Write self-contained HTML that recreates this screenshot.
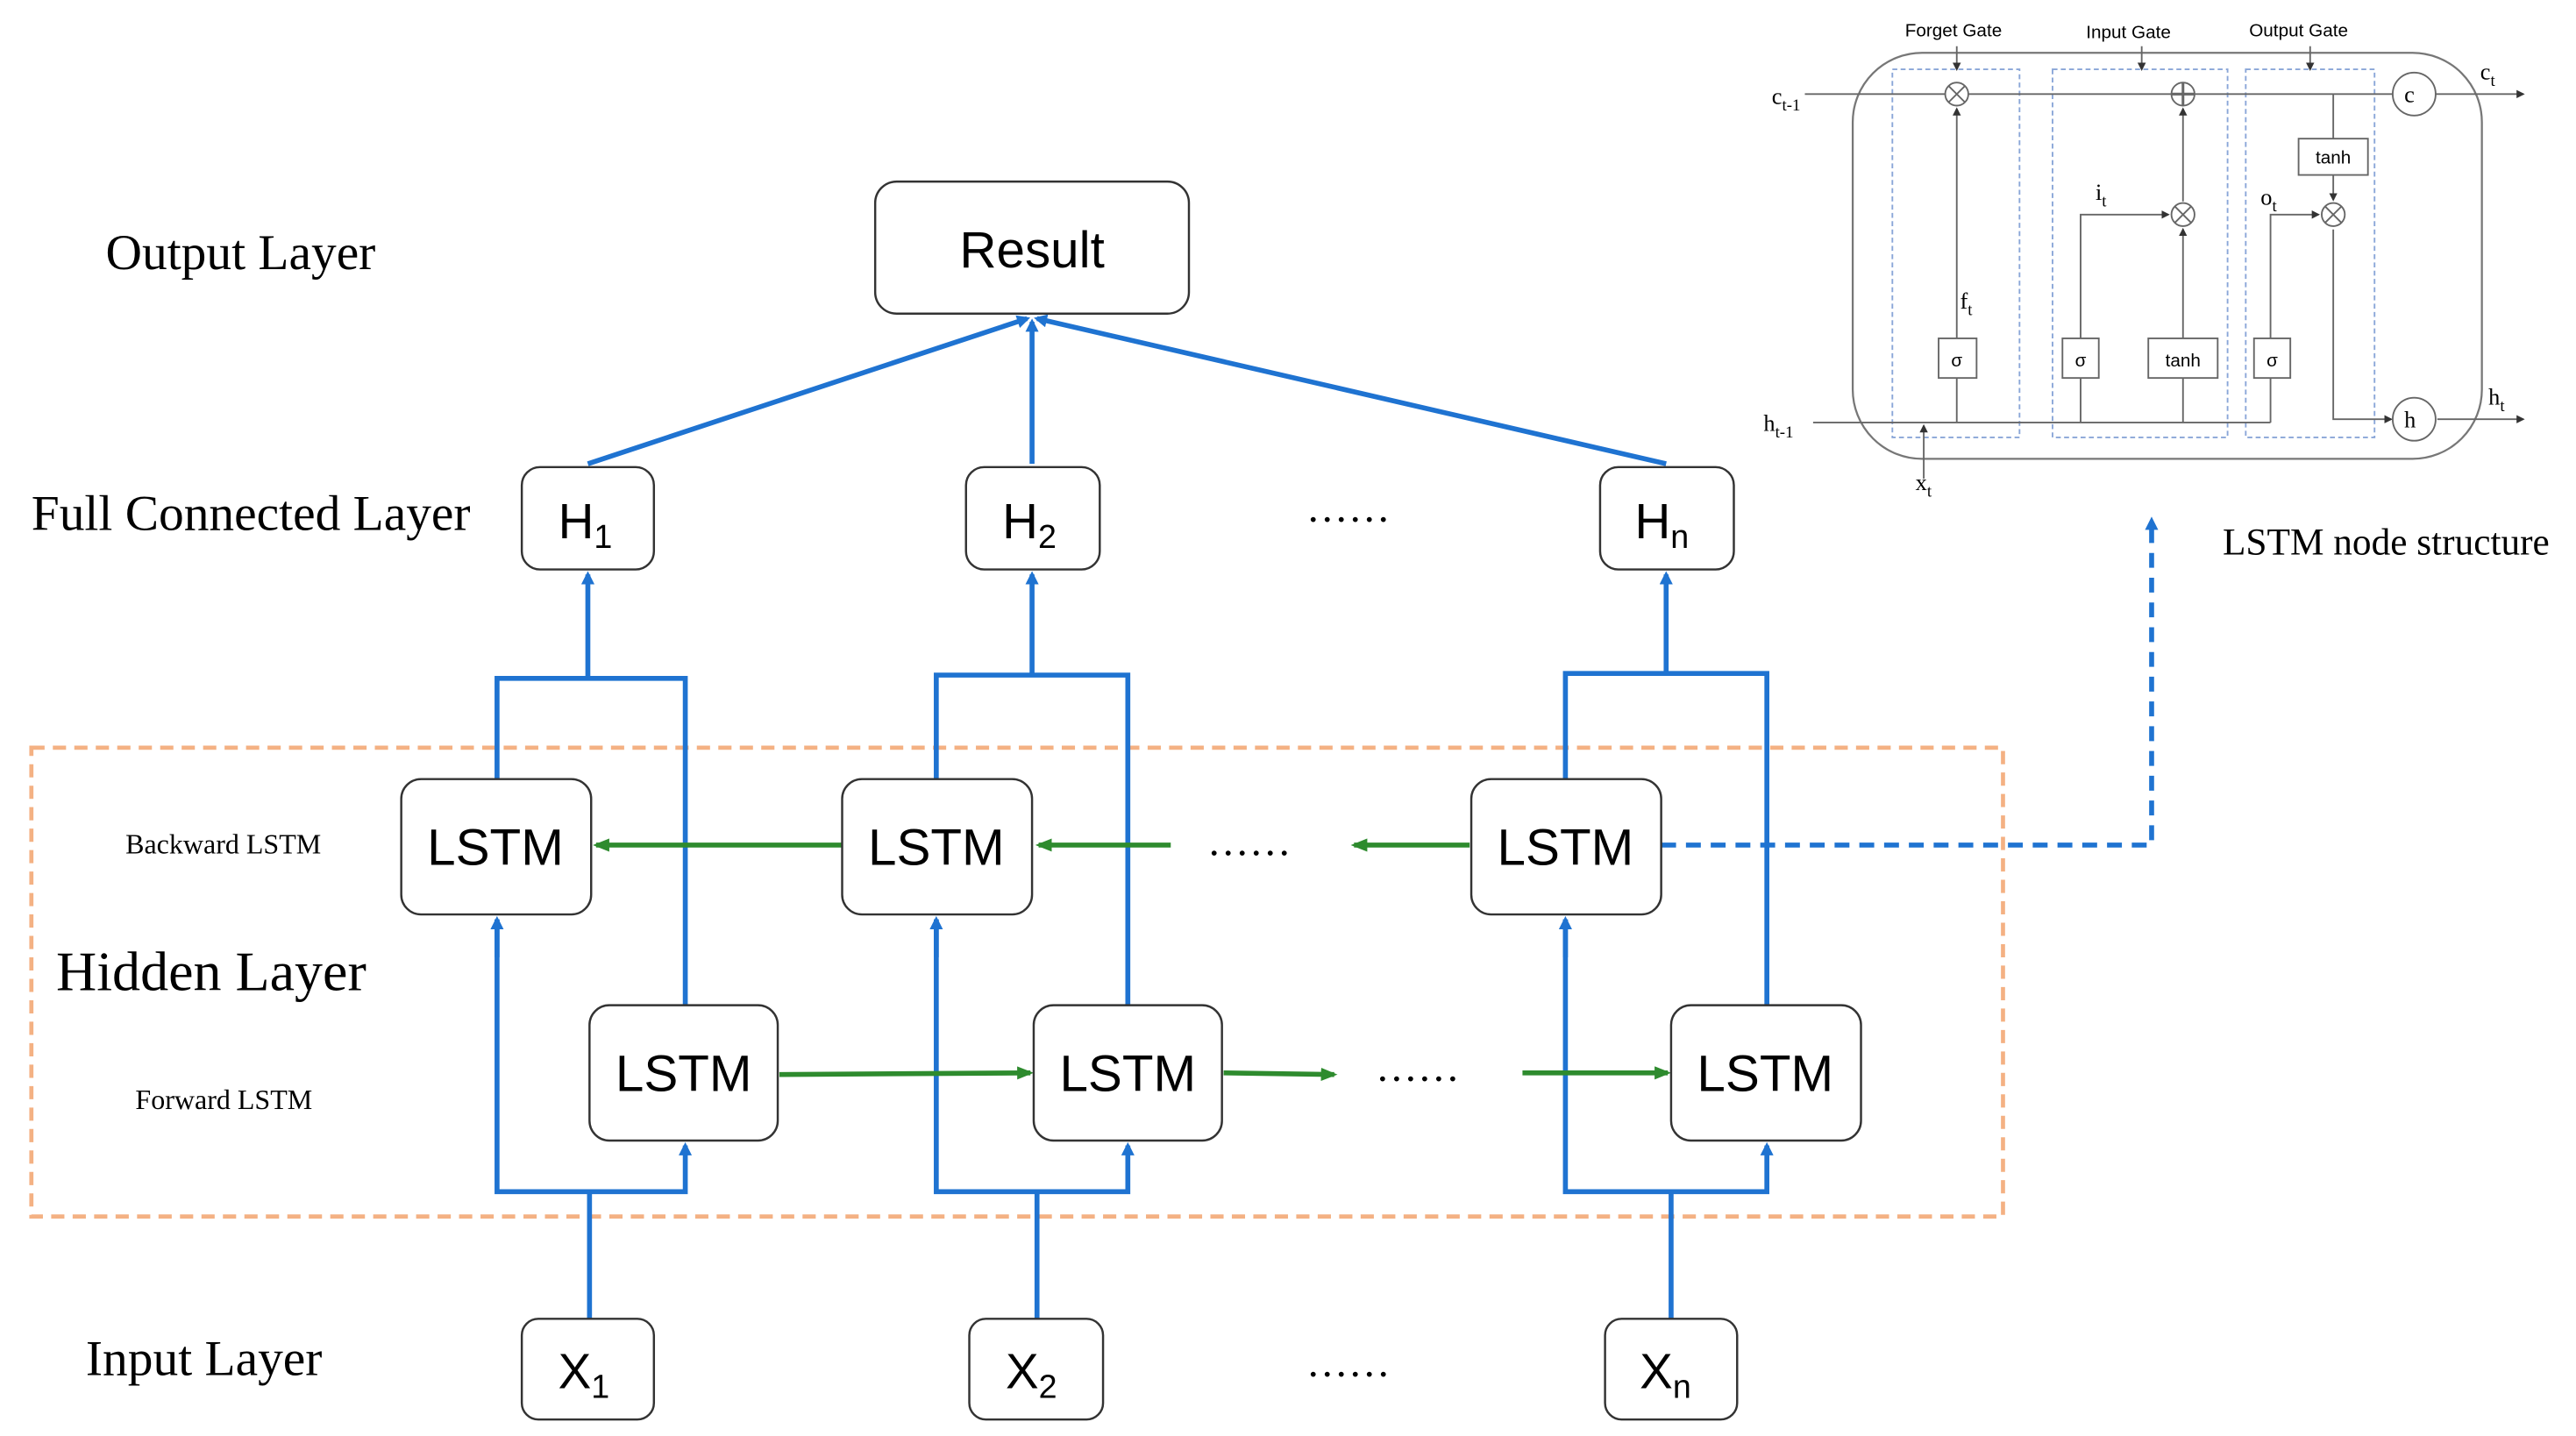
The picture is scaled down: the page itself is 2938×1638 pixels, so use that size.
<!DOCTYPE html>
<html><head><meta charset="utf-8"><style>
html,body{margin:0;padding:0;background:#fff;}
svg{display:block;}
.t{font-family:"Liberation Serif",serif;fill:#000;}
.s{font-family:"Liberation Sans",sans-serif;fill:#000;}
</style></head><body>
<svg width="2938" height="1638" viewBox="0 0 1560 870" preserveAspectRatio="none" xmlns="http://www.w3.org/2000/svg">
<defs>
<marker id="ab" markerWidth="8" markerHeight="8" refX="6" refY="4" orient="auto" markerUnits="userSpaceOnUse"><path d="M0,0 L8,4 L0,8 z" fill="#1f73d1"/></marker>
<marker id="ag" markerWidth="10" markerHeight="8" refX="8" refY="4" orient="auto" markerUnits="userSpaceOnUse"><path d="M0,0 L10,4 L0,8 z" fill="#2e8b2e"/></marker>
<marker id="ak" markerWidth="5" markerHeight="5" refX="4" refY="2.5" orient="auto" markerUnits="userSpaceOnUse"><path d="M0,0 L5,2.5 L0,5 z" fill="#333"/></marker>
</defs>
<text class="t" x="64" y="163" font-size="30.5">Output Layer</text>
<text class="t" x="19" y="321" font-size="30.5">Full Connected Layer</text>
<text class="t" x="34" y="600" font-size="34">Hidden Layer</text>
<text class="t" x="52" y="833" font-size="30.5">Input Layer</text>
<text class="t" x="76" y="517" font-size="17">Backward LSTM</text>
<text class="t" x="82" y="672" font-size="17">Forward LSTM</text>

<rect x="19" y="453" width="1194" height="284" fill="none" stroke="#f4b183" stroke-width="2.5" stroke-dasharray="8,5"/>

<g stroke="#1f73d1" stroke-width="3" fill="none">
<line x1="356" y1="281" x2="622" y2="193" marker-end="url(#ab)"/>
<line x1="625" y1="281" x2="625" y2="195" marker-end="url(#ab)"/>
<line x1="1009" y1="281" x2="628" y2="193" marker-end="url(#ab)"/>
<line x1="356" y1="411" x2="356" y2="348" marker-end="url(#ab)"/>
<line x1="625" y1="409" x2="625" y2="348" marker-end="url(#ab)"/>
<line x1="1009" y1="408" x2="1009" y2="348" marker-end="url(#ab)"/>
<path d="M301,472 V411 H415 V609"/>
<path d="M567,472 V409 H683 V609"/>
<path d="M948,472 V408 H1070 V609"/>
<path d="M357,799 V722"/>
<path d="M628,799 V722"/>
<path d="M1012,799 V722"/>
<path d="M301,557 V722 H415 V694" marker-end="url(#ab)"/>
<line x1="301" y1="580" x2="301" y2="557" marker-end="url(#ab)"/>
<path d="M567,557 V722 H683 V694" marker-end="url(#ab)"/>
<line x1="567" y1="580" x2="567" y2="557" marker-end="url(#ab)"/>
<path d="M948,557 V722 H1070 V694" marker-end="url(#ab)"/>
<line x1="948" y1="580" x2="948" y2="557" marker-end="url(#ab)"/>
<path d="M1006,512 H1303 V315" stroke-dasharray="9,6" marker-end="url(#ab)"/>
</g>

<g stroke="#2e8b2e" stroke-width="3" fill="none">
<line x1="510" y1="512" x2="361" y2="512" marker-end="url(#ag)"/>
<line x1="709" y1="512" x2="629" y2="512" marker-end="url(#ag)"/>
<line x1="890" y1="512" x2="820" y2="512" marker-end="url(#ag)"/>
<line x1="472" y1="651" x2="624" y2="650" marker-end="url(#ag)"/>
<line x1="741" y1="650" x2="808" y2="651" marker-end="url(#ag)"/>
<line x1="922" y1="650" x2="1010" y2="650" marker-end="url(#ag)"/>
</g>
<text class="t" x="732" y="518" font-size="26" letter-spacing="2">......</text>
<text class="t" x="834" y="655" font-size="26" letter-spacing="2">......</text>
<text class="t" x="792" y="316" font-size="26" letter-spacing="2">......</text>
<text class="t" x="792" y="834" font-size="26" letter-spacing="2">......</text>

<g fill="#fff" stroke="#333" stroke-width="1.3">
<rect x="530" y="110" width="190" height="80" rx="13"/>
<rect x="316" y="283" width="80" height="62" rx="11"/>
<rect x="585" y="283" width="81" height="62" rx="11"/>
<rect x="969" y="283" width="81" height="62" rx="11"/>
<rect x="243" y="472" width="115" height="82" rx="12"/>
<rect x="510" y="472" width="115" height="82" rx="12"/>
<rect x="891" y="472" width="115" height="82" rx="12"/>
<rect x="357" y="609" width="114" height="82" rx="12"/>
<rect x="626" y="609" width="114" height="82" rx="12"/>
<rect x="1012" y="609" width="115" height="82" rx="12"/>
<rect x="316" y="799" width="80" height="61" rx="10"/>
<rect x="587" y="799" width="81" height="61" rx="10"/>
<rect x="972" y="799" width="80" height="61" rx="10"/>
</g>
<g class="s" font-size="31" text-anchor="middle">
<text x="625" y="162">Result</text>
<text x="300" y="524">LSTM</text><text x="567" y="524">LSTM</text><text x="948" y="524">LSTM</text>
<text x="414" y="661">LSTM</text><text x="683" y="661">LSTM</text><text x="1069" y="661">LSTM</text>
</g>
<g class="s" font-size="30">
<text x="338" y="326">H<tspan font-size="20" dy="6">1</tspan></text>
<text x="607" y="326">H<tspan font-size="20" dy="6">2</tspan></text>
<text x="990" y="326">H<tspan font-size="20" dy="6">n</tspan></text>
<text x="338" y="841">X<tspan font-size="20" dy="6">1</tspan></text>
<text x="609" y="841">X<tspan font-size="20" dy="6">2</tspan></text>
<text x="993" y="841">X<tspan font-size="20" dy="6">n</tspan></text>
</g>
<text class="t" x="1346" y="336" font-size="23">LSTM node structure</text>

<g stroke="#666" stroke-width="1" fill="none">
<rect x="1122" y="32" width="381" height="246" rx="42" stroke="#777" stroke-width="1.2"/>
<g stroke="#8aa6d8" stroke-dasharray="3,2">
<rect x="1146" y="42" width="77" height="223"/>
<rect x="1243" y="42" width="106" height="223"/>
<rect x="1360" y="42" width="78" height="223"/>
</g>
<line x1="1093" y1="57" x2="1449" y2="57"/>
<line x1="1475" y1="57" x2="1528" y2="57" marker-end="url(#ak)"/>
<line x1="1098" y1="256" x2="1375" y2="256"/>
<path d="M1375,256 V130 H1404" marker-end="url(#ak)"/>
<path d="M1185,256 V66" marker-end="url(#ak)"/>
<path d="M1260,256 V130 H1313" marker-end="url(#ak)"/>
<path d="M1322,256 V139" marker-end="url(#ak)"/>
<path d="M1322,122 V66" marker-end="url(#ak)"/>
<path d="M1413,57 V121" marker-end="url(#ak)"/>
<path d="M1413,139 V254 H1448" marker-end="url(#ak)"/>
<line x1="1476" y1="254" x2="1528" y2="254" marker-end="url(#ak)"/>
<line x1="1165" y1="290" x2="1165" y2="258" marker-end="url(#ak)"/>
<line x1="1185" y1="28" x2="1185" y2="42" marker-end="url(#ak)"/>
<line x1="1297" y1="28" x2="1297" y2="42" marker-end="url(#ak)"/>
<line x1="1399" y1="28" x2="1399" y2="42" marker-end="url(#ak)"/>
<g fill="#fff">
<rect x="1392" y="84" width="42" height="22"/>
<rect x="1174" y="205" width="23" height="24"/>
<rect x="1249" y="205" width="22" height="24"/>
<rect x="1301" y="205" width="42" height="24"/>
<rect x="1365" y="205" width="22" height="24"/>
<circle cx="1185" cy="57" r="7"/><circle cx="1322" cy="57" r="7"/>
<circle cx="1322" cy="130" r="7"/><circle cx="1413" cy="130" r="7"/>
<circle cx="1462" cy="57" r="13"/><circle cx="1462" cy="254" r="13"/>
</g>
<path d="M1180,52 L1190,62 M1190,52 L1180,62 M1317,125 L1327,135 M1327,125 L1317,135 M1408,125 L1418,135 M1418,125 L1408,135"/>
<path d="M1315,57 H1329 M1322,50 V64" stroke-width="1.6"/>
</g>
<g class="s" font-size="11" fill="#333" text-anchor="middle">
<text x="1183" y="22">Forget Gate</text><text x="1289" y="23">Input Gate</text><text x="1392" y="22">Output Gate</text>
<text x="1413" y="99">tanh</text><text x="1322" y="222">tanh</text>
<text x="1185" y="222">σ</text><text x="1260" y="222">σ</text><text x="1376" y="222">σ</text>
</g>
<g class="t" font-size="14" fill="#333">
<text x="1456" y="62">c</text><text x="1456" y="259">h</text>
<text x="1073" y="63">c<tspan font-size="10" dy="4">t-1</tspan></text>
<text x="1068" y="261">h<tspan font-size="10" dy="4">t-1</tspan></text>
<text x="1502" y="48">c<tspan font-size="10" dy="4">t</tspan></text>
<text x="1507" y="245">h<tspan font-size="10" dy="4">t</tspan></text>
<text x="1160" y="297">x<tspan font-size="10" dy="4">t</tspan></text>
<text x="1187" y="187">f<tspan font-size="10" dy="4">t</tspan></text>
<text x="1269" y="121">i<tspan font-size="10" dy="4">t</tspan></text>
<text x="1369" y="124">o<tspan font-size="10" dy="4">t</tspan></text>
</g>
</svg>
</body></html>
